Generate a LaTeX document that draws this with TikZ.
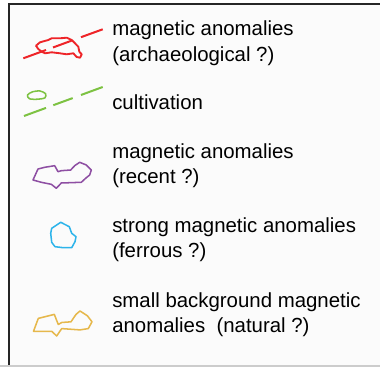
\documentclass[tikz,border=0pt]{standalone}
\usepackage{fontspec}
\setmainfont{Liberation Sans}
\definecolor{redc}{HTML}{EE2428}
\definecolor{greenc}{HTML}{7DC242}
\definecolor{purplec}{HTML}{8E4FA3}
\definecolor{bluec}{HTML}{2DB4EA}
\definecolor{goldc}{HTML}{E6B84C}
\definecolor{panel}{HTML}{FBFBFB}
\begin{document}
\begin{tikzpicture}[x=0.75pt,y=-0.75pt,
  lbl/.style={anchor=base west,inner sep=0pt,font=\fontsize{15.3pt}{18pt}\selectfont},
  shp/.style={line width=1.15pt,line join=round},
  dsh/.style={line width=1.5pt}]
\useasboundingbox (0,0) rectangle (380,367);
\fill[white] (0,0) rectangle (380,367);
\fill[panel] (9,4.5) rectangle (380,365.5);
\draw[line width=1.5pt,black!85] (9,366) -- (9,4.5) -- (381,4.5);
\draw[line width=0.9pt,black!20] (0,366) -- (380,366);

% red: archaeological
\coordinate (r0) at (23.3,58.3);
\draw[dsh,redc] (r0) -- (46,50.0);
\draw[dsh,redc] (53,47.5) -- (72,40.5);
\draw[dsh,redc] (81,37.2) -- (102.7,29.3);
\draw[shp,redc,line width=1.4pt] (36,45.7) -- (40,42.3) -- (48.3,40) -- (51.7,38.3) -- (60,38.3) -- (66.7,37.7) -- (71.7,40) -- (75,43.3) -- (78.3,46.7) -- (79.3,51.7) -- (81.7,54.3) -- (80,57.7) -- (76.7,57) -- (73.3,53.3) -- (66.7,54.3) -- (60,53.3) -- (51.7,52.3) -- (45,53.3) -- (41.7,51.7) -- (38.3,49) -- cycle;

% green: cultivation
\draw[dsh,greenc] (24,116) -- (46,107.9);
\draw[dsh,greenc] (53.3,105.2) -- (72.7,98.1);
\draw[dsh,greenc] (81,95.0) -- (102.7,87.0);
\draw[shp,greenc] plot[smooth cycle] coordinates {(27.5,95) (32.5,91.8) (40,91) (45.5,93.6) (45,97.8) (38,99.2) (29.5,98.8)};

% purple: recent
\draw[shp,purplec] (33,180) -- (38,169) -- (44.7,167.3) -- (54.7,165.7) -- (58,171.7) -- (61.3,170.7) -- (70.7,170) -- (74.7,165.7) -- (79.7,162.3) -- (86.3,165) -- (91.3,170) -- (89.7,175) -- (86.3,177.7) -- (81.3,182.3) -- (61.3,183) -- (56.3,188.3) -- (51.3,184.3) -- (41.3,182.3) -- cycle;

% blue: ferrous
\draw[shp,bluec] (51.7,228.3) -- (60.7,222.3) -- (69.3,226.7) -- (71.7,233.3) -- (76,236.7) -- (75,241.7) -- (71.7,247.7) -- (63.3,247.7) -- (55,246.7) -- (51.7,242.3) -- (50.7,233.3) -- cycle;

% gold: natural
\draw[shp,goldc] (33.5,331.3) -- (38.3,318.4) -- (54.3,314.4) -- (58.3,324.5) -- (61.7,322.5) -- (71,321.8) -- (76,314.4) -- (80,311) -- (87.3,315.7) -- (92,321.8) -- (88.3,328.6) -- (80,329.9) -- (61.7,328.6) -- (56.7,336) -- (51.7,331.3) -- cycle;

% labels
\node[lbl] (t1a) at (112,36) {magnetic anomalies};
\node[lbl] (t1b) at (112,61.5) {(archaeological ?)};
\node[lbl] (t2) at (112,110) {cultivation};
\node[lbl] (t3a) at (112,159) {magnetic anomalies};
\node[lbl] (t3b) at (112,184) {(recent ?)};
\node[lbl] (t4a) at (112,233) {strong magnetic anomalies};
\node[lbl] (t4b) at (112,258) {(ferrous ?)};
\node[lbl] (t5a) at (112,308) {small background magnetic};
\node[lbl] (t5b) at (112,333) {anomalies\ \ (natural ?)};
\end{tikzpicture}
\end{document}
